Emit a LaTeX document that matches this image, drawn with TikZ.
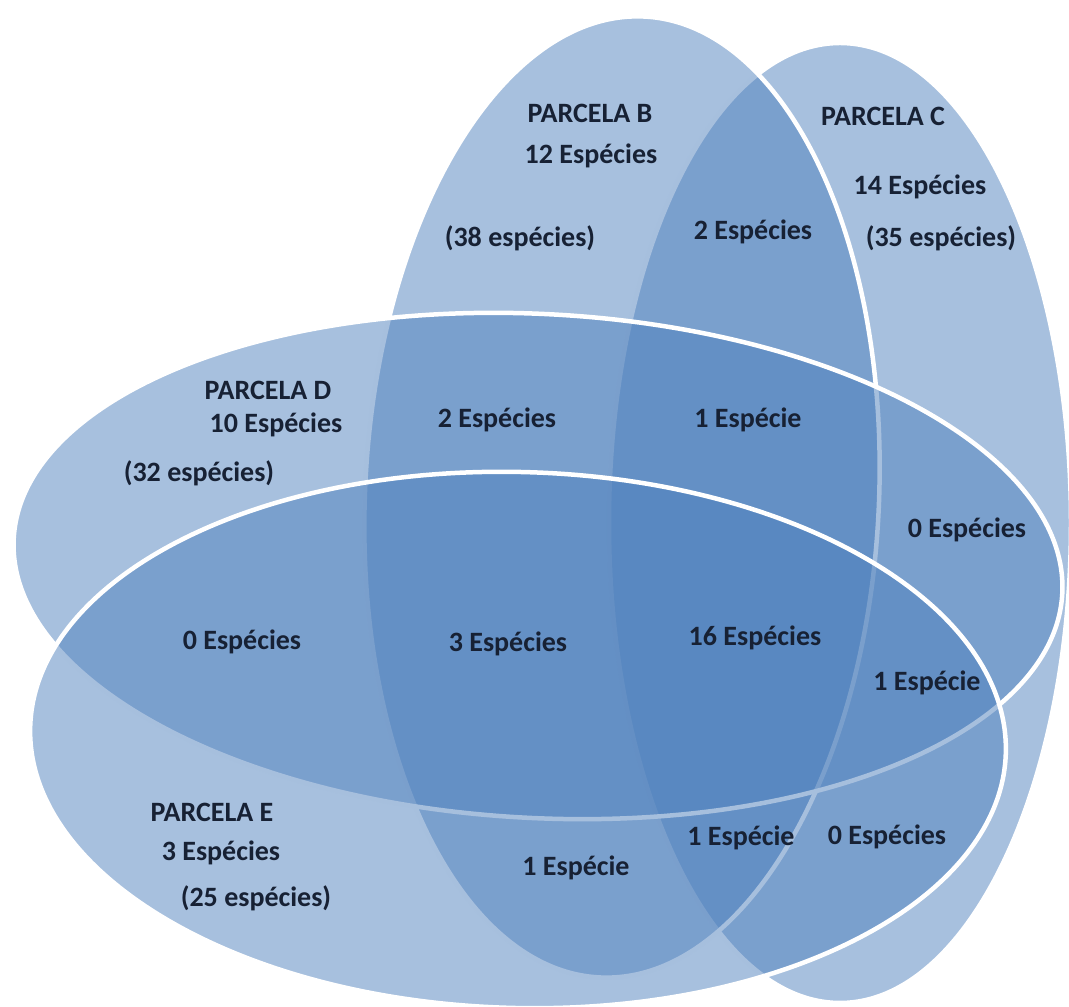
\documentclass[tikz,border=0pt]{standalone}
\usepackage{fontspec}
\setmainfont{Carlito}
\definecolor{parcelblue}{RGB}{79,129,189}
\definecolor{labelnavy}{RGB}{23,33,52}

\begin{document}
\begin{tikzpicture}[x=1pt,y=1pt]
    \tikzstyle{parcela}=[fill=parcelblue,fill opacity=.5,draw=white,line width=4.5]
    \tikzstyle{count}=[text=labelnavy,inner sep=0,font=\fontsize{28}{32}\selectfont\bfseries]
    \useasboundingbox (0,0) rectangle (1069,1007);

    % parcelas, C under B, then D and E on top
    \draw[parcela] (840,484) ellipse [x radius=231, y radius=480];
    \draw[parcela,rotate around={-2.6:(622,510)}] (622,510) ellipse [x radius=257, y radius=481];
    \draw[parcela,rotate around={-3:(538,441)}] (538,441) ellipse [x radius=525, y radius=252];
    \draw[parcela,rotate around={-1.5:(518,267)}] (518,267) ellipse [x radius=488, y radius=268];

    % parcela B
    \node(bname)[count] at (590,894) {PARCELA B};
    \node(bonly)[count] at (591,851) {12 Espécies};
    \node(btotal)[count] at (520,769) {(38 espécies)};
    % parcela C
    \node(cname)[count] at (883,891) {PARCELA C};
    \node(conly)[count] at (920,820) {14 Espécies};
    \node(ctotal)[count] at (941,769) {(35 espécies)};
    % parcela D
    \node(dname)[count] at (268,617) {PARCELA D};
    \node(donly)[count] at (276,582) {10 Espécies};
    \node(dtotal)[count] at (199,534) {(32 espécies)};
    % parcela E
    \node(ename)[count] at (212,195) {PARCELA E};
    \node(eonly)[count] at (221,154) {3 Espécies};
    \node(etotal)[count] at (256,109) {(25 espécies)};

    % intersections
    \node(bc)[count] at (753,775) {2 Espécies};
    \node(bd)[count] at (497,587) {2 Espécies};
    \node(bcd)[count] at (748,587) {1 Espécie};
    \node(cd)[count] at (967,477) {0 Espécies};
    \node(de)[count] at (242,365) {0 Espécies};
    \node(bde)[count] at (508,363) {3 Espécies};
    \node(bcde)[count] at (755,369) {16 Espécies};
    \node(cde)[count] at (927,324) {1 Espécie};
    \node(be)[count] at (576,139) {1 Espécie};
    \node(bce)[count] at (741,169) {1 Espécie};
    \node(ce)[count] at (887,170) {0 Espécies};
\end{tikzpicture}
\end{document}
